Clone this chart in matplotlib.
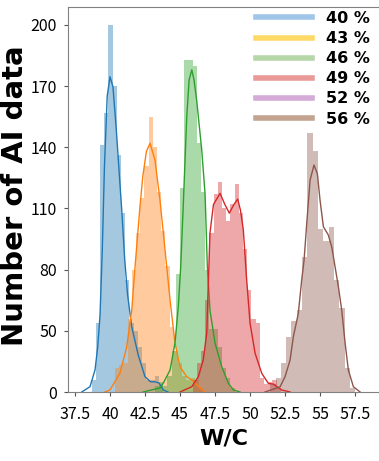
import numpy as np
import matplotlib
matplotlib.use("Agg")
import matplotlib.pyplot as plt
from matplotlib.lines import Line2D

# histogram bins: left edge of first bin, bin width, bar heights (axis units)
blue_start, blue_w = 38.68, 0.30
blue_h = [6, 34, 121, 137, 180, 150, 116, 88, 55, 34, 30, 22, 14, 6, 6, 8, 4]
orange_start, orange_w = 40.36, 0.30
orange_h = [12, 13, 14, 36, 60, 78, 95, 111, 135, 120, 98, 79, 62, 32, 20, 14, 8, 6, 7, 6, 2]
green_start, green_w = 43.20, 0.30
green_h = [3, 5, 3, 8, 20, 58, 100, 163, 163, 160, 122, 98, 60, 31, 31, 22, 12, 7, 2]
red_start, red_w = 45.90, 0.30
red_h = [6, 14, 20, 45, 78, 97, 103, 90, 84, 92, 102, 88, 70, 50, 36, 34, 7, 4, 5, 6, 2]
brown_start, brown_w = 51.44, 0.38
brown_h = [4, 7, 14, 27, 35, 40, 66, 127, 118, 80, 74, 81, 55, 41, 12, 2]

# density curves (x, height)
blue_kx = [37.98, 38.57, 38.93, 39.12, 39.29, 39.45, 39.6, 39.8, 40.0, 40.21, 40.45, 40.69, 40.84, 41.05,
           41.25, 41.55, 42.02, 42.5, 42.9, 43.21, 43.5, 43.81, 44.14]
blue_ky = [0, 2.6, 10.8, 22, 38, 70, 110, 145, 154.6, 149.7, 128.5, 104, 89, 65, 48, 32, 18, 7.5, 5, 5, 4.4, 1, 0]
orange_kx = [39.64, 40.0, 40.71, 41.19, 41.55, 41.79, 42.14, 42.34, 42.6, 42.86, 43.21, 43.57, 43.93, 44.29,
             44.64, 45.0, 45.48, 45.84, 46.43, 46.79]
orange_ky = [0, 1, 9.3, 22, 40, 61.5, 91, 105.6, 118, 122, 113.8, 94, 69.6, 45, 24, 12.4, 7.5, 5.9, 2, 0]
green_kx = [42.36, 43.57, 43.81, 44.29, 44.64, 44.88, 45.05, 45.24, 45.48, 45.65, 45.84, 46.0, 46.19, 46.55,
            46.79, 46.95, 47.14, 47.5, 47.98, 48.45, 48.81, 49.29]
green_ky = [0, 2, 4.4, 10.8, 24, 42, 61.5, 93, 135, 153, 158, 153, 143, 118.7, 97, 61.5, 40, 24, 12.4, 4.3, 1, 0]
red_kx = [45.0, 45.84, 46.31, 46.66, 46.91, 47.02, 47.14, 47.39, 47.86, 48.2, 48.52, 48.85, 49.12, 49.32,
          49.52, 49.76, 50.0, 50.36, 50.84, 51.31, 51.66, 52.26, 52.86]
red_ky = [0, 2.6, 7.5, 15.7, 29, 53, 78, 92, 97.4, 92, 87.7, 92, 94.6, 89, 79.5, 55, 33.8, 19, 9.1, 4.2, 3.9, 1, 0]
brown_kx = [51.07, 52.14, 52.5, 52.86, 53.09, 53.45, 53.69, 53.86, 54.05, 54.29, 54.57, 54.81, 55.0, 55.24,
            55.59, 55.84, 56.07, 56.31, 56.55, 56.79, 57.02, 57.38, 57.86]
brown_ky = [0, 2.5, 7.5, 15.7, 27, 38.6, 55, 64.7, 82.7, 104, 111.3, 107, 94, 81, 77, 71, 61.5, 51.6, 40, 24,
            10.8, 2.6, 0]

legend_labels = ["40 %", "43 %", "46 %", "49 %", "52 %", "56 %"]
legend_colors = ["#9fc5e8", "#ffd966", "#b6d7a8", "#ea9999", "#d4aad6", "#c2a491"]

ytick_pos = [0, 30, 60, 90, 120, 150, 180]
ytick_lab = ["0", "50", "80", "110", "140", "170", "200"]
xticks = [37.5, 40, 42.5, 45, 47.5, 50, 52.5, 55, 57.5]

series = [
    (blue_start, blue_w, blue_h, blue_kx, blue_ky, "#1f77b4"),
    (orange_start, orange_w, orange_h, orange_kx, orange_ky, "#ff7f0e"),
    (green_start, green_w, green_h, green_kx, green_ky, "#2ca02c"),
    (red_start, red_w, red_h, red_kx, red_ky, "#d62728"),
    (brown_start, brown_w, brown_h, brown_kx, brown_ky, "#8c564b"),
]

fig = plt.figure(figsize=(3.79, 4.61), dpi=100)
ax = fig.add_axes([68 / 379, 69 / 461, 1 - 68 / 379, 385 / 461])

for start, w, h, kx, ky, c in series:
    lefts = start + w * np.arange(len(h))
    ax.bar(lefts, h, width=w, align="edge", color=c, alpha=0.4, linewidth=0)
    ax.plot(kx, ky, color=c, lw=1)

ax.set_xlim(37.0, 59.21)
ax.set_ylim(0, 188.8)
ax.set_xticks(xticks)
ax.set_xticklabels([f"{t:g}" for t in xticks])
ax.set_yticks(ytick_pos)
ax.set_yticklabels(ytick_lab)
ax.tick_params(axis="both", labelsize=11.5, colors="#555555", labelcolor="black", length=3)
ax.tick_params(axis="x", pad=7)
ax.tick_params(axis="y", pad=5)
for lab in ax.get_xticklabels() + ax.get_yticklabels():
    lab.set_family("Noto Sans CJK KR")
ax.spines["right"].set_visible(False)
for s in ["left", "top", "bottom"]:
    ax.spines[s].set_color("#808080")

ax.set_xlabel("W/C", fontsize=16, fontweight="bold", labelpad=4)
ax.set_ylabel("Number of AI data", fontsize=21, fontweight="bold", labelpad=3)
ax.yaxis.set_label_coords(-0.125, 0.51)

handles = [Line2D([], [], color=c, lw=4) for c in legend_colors]
fig.legend(handles, legend_labels, loc="upper right", bbox_to_anchor=(378 / 379, 1 - 3 / 461),
           frameon=False, borderpad=0, handlelength=3.5, handletextpad=0.9, labelspacing=0.32,
           prop={"size": 11.5, "weight": "bold"})

fig.savefig("out.png", dpi=100)
